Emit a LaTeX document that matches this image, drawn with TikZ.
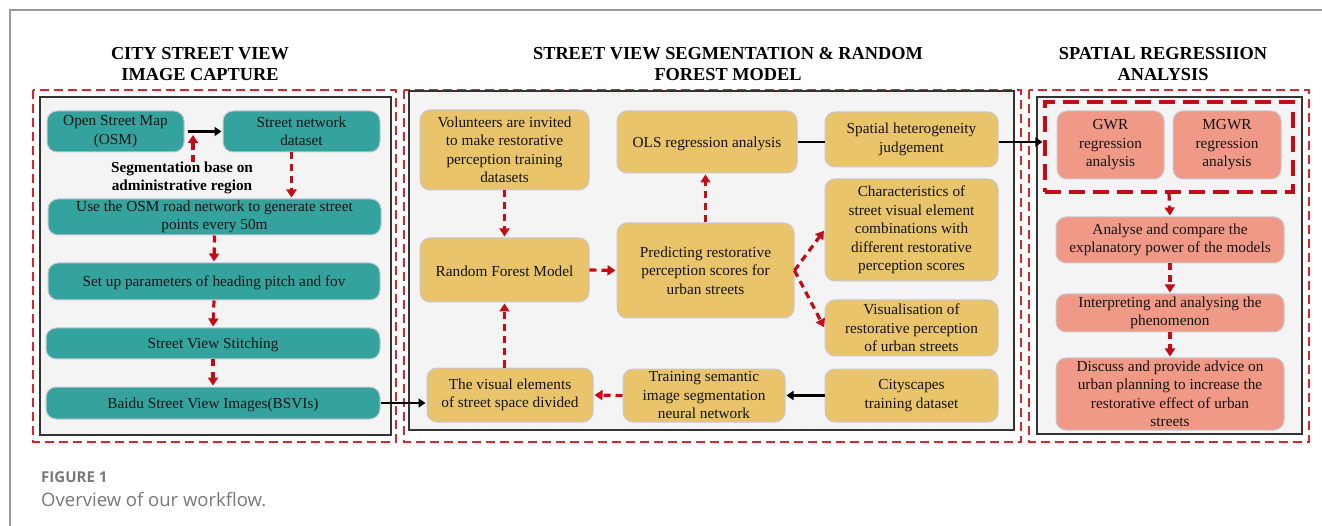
\documentclass[tikz,border=0pt]{standalone}
\usepackage{fontspec}
\setmainfont{Liberation Serif}
\newfontfamily\capfont{Open Sans}
\usetikzlibrary{arrows.meta,calc}
\definecolor{tealc}{RGB}{52,163,158}
\definecolor{yelc}{RGB}{233,196,106}
\definecolor{salc}{RGB}{240,153,135}
\definecolor{bdc}{RGB}{200,200,212}
\definecolor{arrred}{RGB}{196,12,24}
\definecolor{frred}{RGB}{214,40,44}
\definecolor{panelc}{RGB}{244,244,244}
\definecolor{capgrey}{RGB}{120,120,120}
\tikzset{
  bx/.style={rounded corners=10pt, draw=bdc, line width=1pt, inner sep=0pt, align=center,
    text=black!92, font=\fontsize{15.3}{18.5}\selectfont,
    execute at begin node={\rule{0pt}{14pt}}},
  tealbox/.style={bx, fill=tealc},
  yelbox/.style={bx, fill=yelc},
  salbox/.style={bx, fill=salc},
  redarr/.style={draw=arrred, line width=3.2pt, dash pattern=on 7pt off 5pt,
    -{Triangle[length=8pt,width=10pt]}, shorten >=1pt},
  blkarr/.style={draw=black, line width=2.8pt, -{Triangle[length=7pt,width=9pt]}, shorten >=1pt},
  blkline/.style={draw=black, line width=2.8pt},
  frame/.style={draw=frred, line width=1.6pt, dash pattern=on 9pt off 5pt},
  panel/.style={fill=panelc, draw=black!80, line width=1.3pt},
  grpbox/.style={draw=arrred, line width=3.2pt, dash pattern=on 16pt off 8pt, inner sep=0pt},
  ttl/.style={font=\fontsize{18.3}{21.5}\selectfont\bfseries, align=center},
}
\begin{document}
\begin{tikzpicture}[x=1pt,y=-1pt]
\useasboundingbox (0,0) rectangle (1322,526);
% outer grey frame
\draw[black!40, line width=1.5pt] (10,526) -- (10,10) -- (1322,10);

% titles
\node[ttl] (t1) at (200,64) {CITY STREET VIEW\\IMAGE CAPTURE};
\node[ttl] (t2) at (728,64) {STREET VIEW SEGMENTATION \& RANDOM\\FOREST MODEL};
\node[ttl] (t3) at (1163,64) {SPATIAL REGRESSIION\\ANALYSIS};

% section frames
\draw[frame] (33,90) rectangle (396,442);
\draw[panel] (40,97) rectangle (391,435);
\draw[frame] (404,90) rectangle (1021,442);
\draw[panel] (409,91) rectangle (1014,430);
\draw[frame] (1029,90) rectangle (1309,442);
\draw[panel] (1037,97) rectangle (1302,434);

% left boxes
\node[tealbox, minimum width=137pt, minimum height=41pt] (osm) at (115.5,131.5) {Open Street Map\\(OSM)};
\node[tealbox, minimum width=157pt, minimum height=41pt] (snd) at (301.5,131.5) {Street network\\dataset};
\node[tealbox, minimum width=333pt, minimum height=36pt] (use) at (214.5,217) {Use the OSM road network to generate street\\points every 50m};
\node[tealbox, minimum width=332pt, minimum height=37pt] (setup) at (214,281.5) {Set up parameters of heading pitch and fov};
\node[tealbox, minimum width=334pt, minimum height=31pt] (stitch) at (213,343.5) {Street View Stitching};
\node[tealbox, minimum width=334pt, minimum height=32pt] (baidu) at (213,403) {Baidu Street View Images(BSVIs)};
\node[font=\fontsize{15.3}{18.5}\selectfont\bfseries, align=center, inner sep=0pt] (seg) at (182,178) {Segmentation base on\\administrative region};

% middle boxes
\node[yelbox, minimum width=169pt, minimum height=80pt] (vol) at (504.5,150) {Volunteers are invited\\to make restorative\\perception training\\datasets};
\node[yelbox, minimum width=180pt, minimum height=62pt] (ols) at (707,142) {OLS regression analysis};
\node[yelbox, minimum width=173pt, minimum height=55pt] (spat) at (911.5,139.5) {Spatial heterogeneity\\judgement};
\node[yelbox, minimum width=173pt, minimum height=102pt] (char) at (911.5,230) {Characteristics of\\street visual element\\combinations with\\different restorative\\perception scores};
\node[yelbox, minimum width=169pt, minimum height=64pt] (rf) at (504.5,270) {Random Forest Model};
\node[yelbox, minimum width=177pt, minimum height=95pt] (pred) at (705.5,270.5) {Predicting restorative\\perception scores for\\urban streets};
\node[yelbox, minimum width=173pt, minimum height=56pt] (vis) at (911.5,328) {Visualisation of\\restorative perception\\of urban streets};
\node[yelbox, minimum width=173pt, minimum height=53pt] (city) at (911.5,395.5) {Cityscapes\\training dataset};
\node[yelbox, minimum width=166pt, minimum height=54pt] (vel) at (510,395) {The visual elements\\of street space divided};
\node[yelbox, minimum width=162pt, minimum height=53pt] (train) at (704,395.5) {Training semantic\\image segmentation\\neural network};

% right boxes
\node[grpbox, minimum width=248pt, minimum height=90pt] (grp) at (1169,147) {};
\node[salbox, minimum width=107pt, minimum height=68pt] (gwr) at (1110.5,145) {GWR\\regression\\analysis};
\node[salbox, minimum width=108pt, minimum height=68pt] (mgwr) at (1227,145) {MGWR\\regression\\analysis};
\node[salbox, minimum width=228pt, minimum height=46pt] (anal) at (1170,240) {Analyse and compare the\\explanatory power of the models};
\node[salbox, minimum width=228pt, minimum height=38pt] (interp) at (1170,313) {Interpreting and analysing the\\phenomenon};
\node[salbox, minimum width=228pt, minimum height=72pt] (disc) at (1170,394) {Discuss and provide advice on\\urban planning to increase the\\restorative effect of urban\\streets};

% left connectors
\draw[blkarr] ([xshift=3pt]osm.east) -- (snd.west);
\coordinate (segtip) at (193,134);
\draw[redarr] (seg.north -| segtip) -- (segtip);
\coordinate (a1) at ([xshift=-10pt]snd.south);
\draw[redarr] (a1) -- (a1 |- use.north);
\draw[redarr] (use.south) -- (setup.north);
\draw[redarr] (setup.south) -- (stitch.north);
\draw[redarr] (stitch.south) -- (baidu.north);
\draw[blkarr] (baidu.east) -- (baidu.east -| vel.west);

% middle connectors
\draw[redarr] (vol.south) -- (rf.north);
\draw[redarr] (rf.east) -- (pred.west);
\draw[redarr] (pred.north) -- (pred.north |- ols.south);
\draw[blkline] (ols.east) -- (ols.east -| spat.west);
\draw[blkarr] (ols.east -| spat.east) -- (ols.east -| grp.west);
\draw[redarr] (pred.east) -- (char.west);
\draw[redarr] (pred.east) -- (vis.west);
\draw[redarr] (rf.south |- vel.north) -- (rf.south);
\draw[redarr] (train.west) -- (vel.east);
\draw[blkarr] (city.west) -- (train.east);

% right connectors
\draw[redarr] (grp.south) -- (anal.north);
\draw[redarr] (anal.south) -- (interp.north);
\draw[redarr] (interp.south) -- (disc.north);

% caption
\node[anchor=west, inner sep=0pt, font=\capfont\bfseries\fontsize{15}{18}\selectfont, text=capgrey] (cap1) at (41,477) {FIGURE 1};
\node[anchor=west, inner sep=0pt, font=\capfont\fontsize{18.5}{22}\selectfont, text=capgrey] (cap2) at (41,500) {Overview of our workflow.};
\end{tikzpicture}
\end{document}
